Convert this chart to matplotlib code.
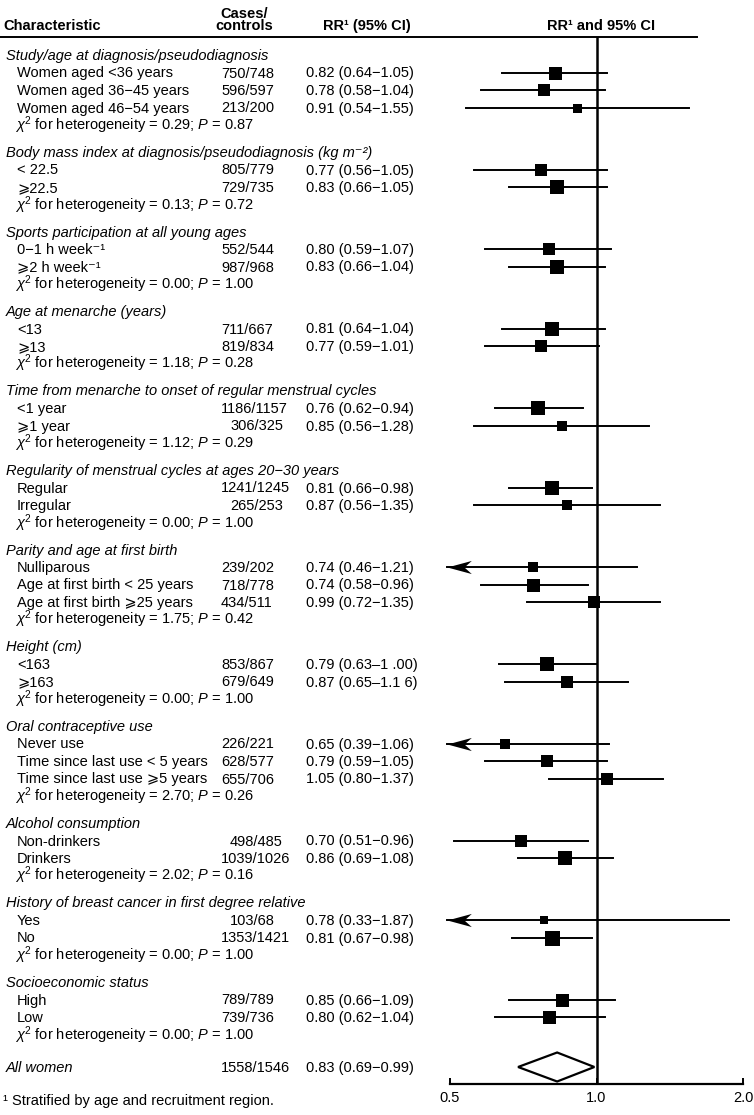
import matplotlib
matplotlib.use("Agg")
import matplotlib.pyplot as plt
from matplotlib.path import Path
from matplotlib.ticker import NullLocator
from matplotlib.transforms import blended_transform_factory

plt.rcParams['font.family'] = ['Liberation Sans', 'DejaVu Sans']
plt.rcParams['font.size'] = 10.5
plt.rcParams['mathtext.fontset'] = 'custom'
plt.rcParams['mathtext.rm'] = 'Liberation Sans'
plt.rcParams['mathtext.it'] = 'Liberation Sans:italic'
plt.rcParams['mathtext.bf'] = 'Liberation Sans:bold'

titles = [
    "Study/age at diagnosis/pseudodiagnosis",
    "Body mass index at diagnosis/pseudodiagnosis (kg m\u207b\u00b2)",
    "Sports participation at all young ages",
    "Age at menarche (years)",
    "Time from menarche to onset of regular menstrual cycles",
    "Regularity of menstrual cycles at ages 20\u221230 years",
    "Parity and age at first birth",
    "Height (cm)",
    "Oral contraceptive use",
    "Alcohol consumption",
    "History of breast cancer in first degree relative",
    "Socioeconomic status",
]
row_labels = [
    ["Women aged <36 years", "Women aged 36\u221245 years", "Women aged 46\u221254 years"],
    ["< 22.5", "\u2a7e22.5"],
    ["0\u22121 h week\u207b\u00b9", "\u2a7e2 h week\u207b\u00b9"],
    ["<13", "\u2a7e13"],
    ["<1 year", "\u2a7e1 year"],
    ["Regular", "Irregular"],
    ["Nulliparous", "Age at first birth < 25 years", "Age at first birth \u2a7e25 years"],
    ["<163", "\u2a7e163"],
    ["Never use", "Time since last use < 5 years", "Time since last use \u2a7e5 years"],
    ["Non-drinkers", "Drinkers"],
    ["Yes", "No"],
    ["High", "Low"],
]
cases = [
    ["750/748", "596/597", "213/200"],
    ["805/779", "729/735"],
    ["552/544", "987/968"],
    ["711/667", "819/834"],
    ["1186/1157", "306/325"],
    ["1241/1245", "265/253"],
    ["239/202", "718/778", "434/511"],
    ["853/867", "679/649"],
    ["226/221", "628/577", "655/706"],
    ["498/485", "1039/1026"],
    ["103/68", "1353/1421"],
    ["789/789", "739/736"],
]
rr = [
    [0.82, 0.78, 0.91], [0.77, 0.83], [0.80, 0.83], [0.81, 0.77],
    [0.76, 0.85], [0.81, 0.87], [0.74, 0.74, 0.99], [0.79, 0.87],
    [0.65, 0.79, 1.05], [0.70, 0.86], [0.78, 0.81], [0.85, 0.80],
]
ci_low = [
    [0.64, 0.58, 0.54], [0.56, 0.66], [0.59, 0.66], [0.64, 0.59],
    [0.62, 0.56], [0.66, 0.56], [0.46, 0.58, 0.72], [0.63, 0.65],
    [0.39, 0.59, 0.80], [0.51, 0.69], [0.33, 0.67], [0.66, 0.62],
]
ci_high = [
    [1.05, 1.04, 1.55], [1.05, 1.05], [1.07, 1.04], [1.04, 1.01],
    [0.94, 1.28], [0.98, 1.35], [1.21, 0.96, 1.35], [1.00, 1.16],
    [1.06, 1.05, 1.37], [0.96, 1.08], [1.87, 0.98], [1.09, 1.04],
]
# box side in pixels (weight of each estimate)
box_px = [
    [13, 12.5, 9], [12, 14], [12.7, 14], [13.3, 12.7],
    [14.7, 10], [14.7, 10], [10, 13, 12], [13.3, 12.7],
    [9.3, 12, 12.7], [12.7, 14], [7.5, 15], [13, 13],
]
chi2 = [0.29, 0.13, 0.00, 1.18, 1.12, 0.00, 1.75, 0.00, 2.70, 2.02, 0.00, 0.00]
p_val = [0.87, 0.72, 1.00, 0.28, 0.29, 1.00, 0.42, 1.00, 0.26, 0.16, 1.00, 1.00]
# the printed table has two odd spacings in the height rows
rr_text_fix = {(7, 0): "0.79 (0.63\u20131 .00)", (7, 1): "0.87 (0.65\u20131.1 6)"}

all_cases = "1558/1546"
all_rr, all_lo, all_hi = 0.83, 0.69, 0.99

# --- layout (pixels) ---
W, H = 754, 1115
TOP, AXIS_Y = 37, 1084
BASE = 5  # baseline sits this many px below the visual centre of a row
fig = plt.figure(figsize=(W / 100, H / 100), dpi=100)
ax = fig.add_axes([450 / W, 1 - AXIS_Y / H, (743 - 450) / W, (AXIS_Y - TOP) / H])
ax.set_xscale('log')
ax.set_xlim(0.5, 2.0)
ax.set_ylim(AXIS_Y, TOP)
ax.set_xticks([0.5, 1.0, 2.0])
ax.set_xticklabels(["0.5", "1.0", "2.0"])
ax.xaxis.set_minor_locator(NullLocator())
ax.set_yticks([])
for s in ['top', 'left', 'right']:
    ax.spines[s].set_visible(False)
ax.spines['bottom'].set_linewidth(1.6)
ax.tick_params(axis='x', direction='in', length=4, width=1.4, pad=5, labelsize=10.5)
ax.axvline(1.0, color='black', lw=1.8, zorder=1)

tr = blended_transform_factory(fig.transFigure, ax.transData)


def put(x, y, s, **kw):
    ax.text(x / W, y + BASE, s, transform=tr, va='baseline', clip_on=False, **kw)


# header
hy = 25
fig.text(3 / W, 1 - (hy + BASE) / H, "Characteristic", weight='bold', va='baseline')
fig.text(244 / W, 1 - (12.5 + BASE) / H, "Cases/", weight='bold', va='baseline', ha='center')
fig.text(244 / W, 1 - (hy + BASE) / H, "controls", weight='bold', va='baseline', ha='center')
fig.text(367 / W, 1 - (hy + BASE) / H, "RR\u00b9 (95% CI)", weight='bold', va='baseline', ha='center')
fig.text(601 / W, 1 - (hy + BASE) / H, "RR\u00b9 and 95% CI", weight='bold', va='baseline', ha='center')
fig.add_artist(plt.Line2D([0, 697 / W], [1 - TOP / H] * 2, color='black', lw=1.4))

# stealth-like arrowhead with its tip at the marker origin
arrow = Path([(0, 0), (1, 0.27), (0.7, 0), (1, -0.27), (0, 0)],
             [Path.MOVETO, Path.LINETO, Path.LINETO, Path.LINETO, Path.CLOSEPOLY])
arrow_tip = 0.493

LINE, GAP = 17.5, 27
y = 55
for g, title in enumerate(titles):
    put(6, y, title, style='italic')
    four = any(len(c.split('/')[0]) == 4 for c in cases[g])
    for i, lab in enumerate(row_labels[g]):
        yr = y + LINE * (i + 1)
        put(17, yr, lab)
        c = cases[g][i]
        cx = 230 if (four and len(c.split('/')[0]) == 3) else 221
        put(cx, yr, c)
        txt = rr_text_fix.get((g, i),
                              f"{rr[g][i]:.2f} ({ci_low[g][i]:.2f}\u2212{ci_high[g][i]:.2f})")
        put(306, yr, txt)
        lo = ci_low[g][i]
        if lo < 0.5:
            ax.plot([arrow_tip, ci_high[g][i]], [yr, yr], color='black', lw=1.4,
                    clip_on=False, zorder=2)
            ax.plot(arrow_tip, yr, marker=arrow, ms=35, color='black', mew=0,
                    clip_on=False, zorder=3)
        else:
            ax.plot([lo, ci_high[g][i]], [yr, yr], color='black', lw=1.4, zorder=2)
        ax.plot(rr[g][i], yr, 's', ms=box_px[g][i] * 0.72, color='black', mew=0, zorder=3)
    ychi = y + LINE * (len(row_labels[g]) + 1)
    put(15, ychi, f"$\\chi^2$ for heterogeneity = {chi2[g]:.2f}; $P$ = {p_val[g]:.2f}")
    y = ychi + GAP

# overall
ya = 1067
put(6, ya, "All women", style='italic')
put(221, ya, all_cases)
put(306, ya, f"{all_rr:.2f} ({all_lo:.2f}\u2212{all_hi:.2f})")
ax.fill([all_lo, all_rr, all_hi, all_rr], [ya, ya - 14.5, ya, ya + 14.5],
        facecolor='white', edgecolor='black', lw=1.6, zorder=3)

fig.text(3 / W, 1 - (1100 + BASE) / H, "\u00b9 Stratified by age and recruitment region.",
         va='baseline')

fig.savefig("out.png", dpi=100)
